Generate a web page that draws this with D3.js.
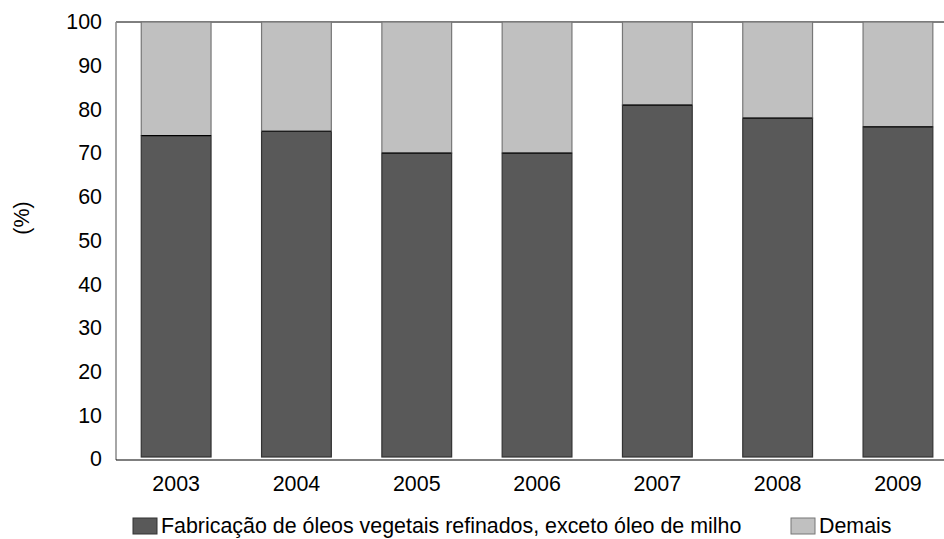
<!DOCTYPE html>
<html>
<head>
<meta charset="utf-8">
<script src="https://cdn.jsdelivr.net/npm/d3@7"></script>
<style>
  body { margin: 0; background: #fff; }
  text { font-family: "Liberation Sans", Arial, sans-serif; fill: #000; }
</style>
</head>
<body>
<div id="chart"></div>
<script>
var years = ['2003', '2004', '2005', '2006', '2007', '2008', '2009'];
var oleos = [74, 75, 70, 70, 81, 78, 76];
var demais = [26, 25, 30, 30, 19, 22, 24];
var y_ticks = [0, 10, 20, 30, 40, 50, 60, 70, 80, 90, 100];
var series_names = ['Fabricação de óleos vegetais refinados, exceto óleo de milho', 'Demais'];

var fill_dark = '#595959';
var fill_light = '#c0c0c0';
var font_size = '21.4px';

var chart_w = 944, chart_h = 539;
var plot_left = 116, plot_top = 22, plot_bottom = 459;

var svg = d3.select('#chart').append('svg')
    .attr('width', chart_w)
    .attr('height', chart_h);

var x = d3.scaleBand().domain(years).range([plot_left, plot_left + 7 * 120.3]).paddingInner(0.42).paddingOuter(0.21);
var y = d3.scaleLinear().domain([0, 100]).range([plot_bottom, plot_top]);

// stacked data
var rows = years.map(function(yr, i) { return {year: yr, oleos: oleos[i], demais: demais[i]}; });
var stack = d3.stack().keys(['oleos', 'demais'])(rows);

// axis lines
svg.append('line').attr('x1', plot_left).attr('x2', chart_w).attr('y1', plot_top).attr('y2', plot_top)
    .attr('stroke', '#000').attr('stroke-width', 1);
svg.append('line').attr('x1', plot_left).attr('x2', plot_left).attr('y1', plot_top).attr('y2', 460)
    .attr('stroke', '#888').attr('stroke-width', 1.5);

var layers = svg.append('g').selectAll('g')
    .data(stack).enter().append('g')
    .attr('fill', function(d, i) { return i === 0 ? fill_dark : fill_light; })
    .attr('stroke', function(d, i) { return i === 0 ? '#333' : '#777'; })
    .attr('stroke-width', 1.2);

layers.selectAll('rect')
    .data(function(d) { return d; }).enter().append('rect')
    .attr('x', function(d) { return x(d.data.year); })
    .attr('y', function(d) { return y(d[1]); })
    .attr('width', x.bandwidth())
    .attr('height', function(d) { return y(d[0]) - y(d[1]) - (d[0] === 0 ? 2 : 0); });

// boundary between series
svg.append('g').selectAll('line')
    .data(stack[0]).enter().append('line')
    .attr('x1', function(d) { return x(d.data.year); })
    .attr('x2', function(d) { return x(d.data.year) + x.bandwidth(); })
    .attr('y1', function(d) { return y(d[1]); })
    .attr('y2', function(d) { return y(d[1]); })
    .attr('stroke', '#000').attr('stroke-width', 1.2);

svg.append('line').attr('x1', plot_left).attr('x2', chart_w).attr('y1', 460).attr('y2', 460)
    .attr('stroke', '#000').attr('stroke-width', 1.2);

// y axis labels
var yAxis = d3.axisLeft(y).tickValues(y_ticks).tickSize(0).tickPadding(14);
var gy = svg.append('g').attr('transform', 'translate(' + plot_left + ',0)').call(yAxis);
gy.select('.domain').remove();
gy.selectAll('text').style('font-size', font_size).style('font-family', '"Liberation Sans", Arial, sans-serif');

// x axis labels
var xAxis = d3.axisBottom(x).tickSize(0).tickPadding(16);
var gx = svg.append('g').attr('transform', 'translate(0,460)').call(xAxis);
gx.select('.domain').remove();
gx.selectAll('text').style('font-size', font_size).style('font-family', '"Liberation Sans", Arial, sans-serif');

// y title
svg.append('text')
    .attr('transform', 'translate(29,218) rotate(-90)')
    .attr('text-anchor', 'middle')
    .style('font-size', font_size)
    .text('(%)');

// legend
var legend_items = [
    {name: series_names[0], fill: fill_dark, stroke: '#333', x: 133},
    {name: series_names[1], fill: fill_light, stroke: '#777', x: 791}
];
var lg = svg.append('g').selectAll('g').data(legend_items).enter().append('g')
    .attr('transform', function(d) { return 'translate(' + d.x + ',518)'; });
lg.append('rect').attr('width', 24).attr('height', 16)
    .attr('fill', function(d) { return d.fill; })
    .attr('stroke', function(d) { return d.stroke; });
lg.append('text').attr('x', 28).attr('y', 15)
    .style('font-size', font_size)
    .text(function(d) { return d.name; });
</script>
</body>
</html>
